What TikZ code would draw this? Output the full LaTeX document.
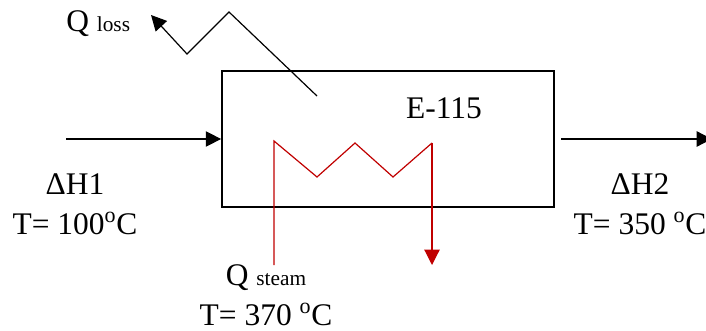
\documentclass[tikz,border=0pt]{standalone}
\usepackage{fontspec}
\setmainfont{Liberation Serif}
\usepackage{xcolor}
\usetikzlibrary{arrows.meta, positioning, calc}
\definecolor{cSteam}{RGB}{192,0,0}
\tikzset{
	unitbox/.style={rectangle, draw=black, line width=1.3pt, minimum width=249pt, minimum height=102pt, inner sep=0pt},
	flowline/.style={-{Triangle[length=11.5pt, width=11.5pt]}, line width=0.9pt},
	steamline/.style={cSteam, line width=0.9pt},
	streamlabel/.style={align=center, inner sep=0pt, font=\fontsize{23.6}{30}\selectfont},
}

\begin{document}
\begin{tikzpicture}[x=0.75pt, y=-0.75pt]
	\useasboundingbox (0,0) rectangle (706,331);
	\node[unitbox] (unit) at (388,139) {};
	\node[streamlabel] (tag) at (444,108) {E-115};
	% streams in and out
	\coordinate (feedstart) at (66,139);
	\coordinate (feedend) at (unit.west |- feedstart);
	\coordinate (prodstart) at (561,139);
	\coordinate (prodend) at (712,139);
	\draw[flowline] (feedstart) -- (feedend);
	\draw[flowline] (prodstart) -- (prodend);
	\node[streamlabel] (feedlabel) at (75,204) {ΔH1\\T= 100\textsuperscript{o}C};
	\node[streamlabel] (prodlabel) at (640,204) {ΔH2\\T= 350 \textsuperscript{o}C};
	% heat loss
	\coordinate (lossstart) at (317,96);
	\coordinate (losstop) at (229,12);
	\coordinate (lossbend) at (187,54);
	\coordinate (lossend) at (151,15);
	\draw[flowline] (lossstart) -- (losstop) -- (lossbend) -- (lossend);
	\node[streamlabel, anchor=west] (losslabel) at (66,24) {Q {\fontsize{16}{18}\selectfont loss}};
	% steam coil
	\coordinate (coilin) at (274,265);
	\coordinate (coilend) at (432,143);
	\draw[steamline] (coilin) -- (274,141) -- (317,177) -- (355,143) -- (393,177) -- (coilend);
	\draw[steamline, -{Triangle[length=11.5pt, width=11.5pt]}] (coilend) -- (432,265);
	\node[streamlabel] (steamlabel) at (266,295) {Q {\fontsize{16}{18}\selectfont steam}\\T= 370 \textsuperscript{o}C};
\end{tikzpicture}
\end{document}
